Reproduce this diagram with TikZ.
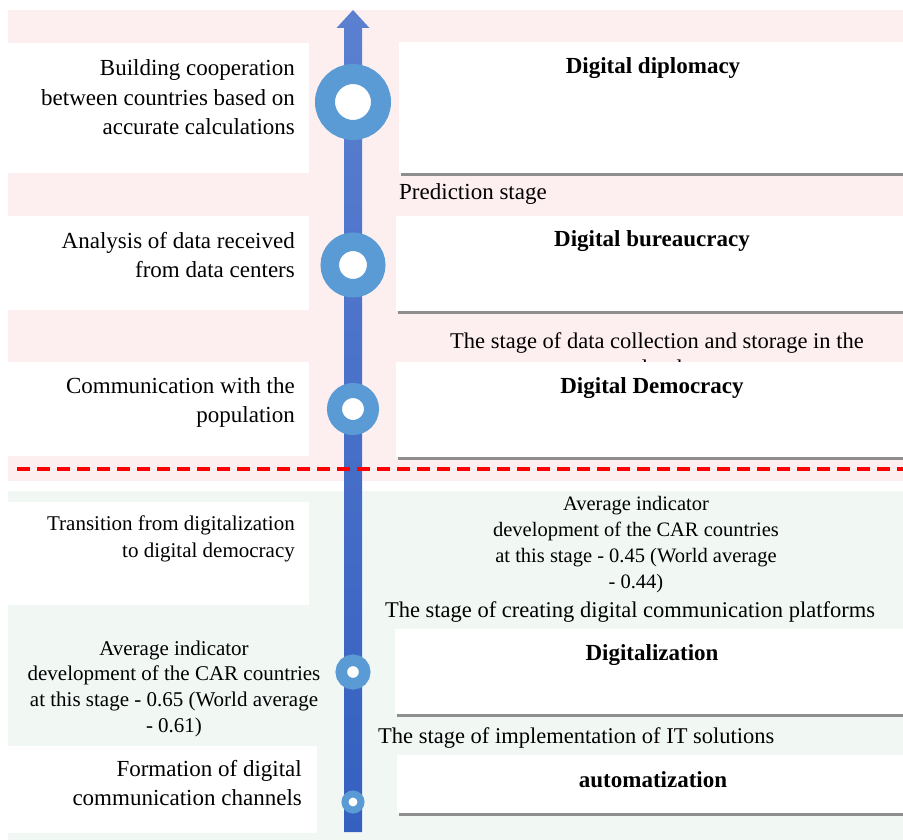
\documentclass[tikz,border=0pt]{standalone}
\usepackage{fontspec}
\setmainfont{Liberation Serif}
\usetikzlibrary{arrows.meta}
\definecolor{pinkbg}{HTML}{FDEFEF}
\definecolor{greenbg}{HTML}{F1F8F4}
\definecolor{ringblue}{HTML}{5B9BD5}
\definecolor{arrowtop}{HTML}{5B80D0}
\definecolor{arrowbot}{HTML}{3560C0}
\definecolor{rulegray}{HTML}{8E8E8E}
\definecolor{dashred}{HTML}{FF0000}
\newcommand\mylines[2]{\begin{tabular}[t]{@{}#1@{}}#2\end{tabular}}
\tikzset{
  whitebox/.style={fill=white},
  grayrule/.style={draw=rulegray, line width=3pt},
  lefttext/.style={anchor=base east, inner sep=0pt, font=\fontsize{23}{29.5}\selectfont},
  smalltext/.style={anchor=base, inner sep=0pt, font=\fontsize{20.5}{26}\selectfont},
  stagetext/.style={anchor=base west, inner sep=0pt, font=\fontsize{22.5}{27}\selectfont},
  titletext/.style={anchor=base, inner sep=0pt, font=\fontsize{23}{28}\selectfont\bfseries},
  ring/.style={circle, draw=ringblue, fill=white, inner sep=0pt, outer sep=0pt},
}
\begin{document}
\begin{tikzpicture}[x=1pt,y=-1pt]
\useasboundingbox (0,0) rectangle (903,840);
% backgrounds
\fill[pinkbg] (8,10) rectangle (903,481);
\fill[greenbg] (8,491) rectangle (903,840);
% stage text partly hidden by box below
\node[stagetext, anchor=base, align=center] (s2) at (657,348) {\mylines{c}{The stage of data collection and storage in the\\cloud}};
% white boxes
\fill[whitebox] (8,43) rectangle (309,173);
\fill[whitebox] (399,42) rectangle (903,173);
\fill[whitebox] (8,216) rectangle (309,310);
\fill[whitebox] (396,216) rectangle (903,311);
\fill[whitebox] (8,362) rectangle (309,456);
\fill[whitebox] (396,362) rectangle (903,457);
\fill[whitebox] (8,502) rectangle (309,605);
\fill[whitebox] (395,629) rectangle (903,714);
\fill[whitebox] (8,746) rectangle (317,833);
\fill[whitebox] (397,755) rectangle (903,813);
% gray rules
\draw[grayrule] (401,174.5) -- (903,174.5);
\draw[grayrule] (398,312.5) -- (903,312.5);
\draw[grayrule] (398,458.5) -- (903,458.5);
\draw[grayrule] (397,715.5) -- (903,715.5);
\draw[grayrule] (399,814.5) -- (903,814.5);
% left texts
\node[lefttext] (l1) at (295,76) {\mylines{r}{Building cooperation\\between countries based on\\accurate calculations}};
\node[lefttext] (l2) at (295,248) {\mylines{r}{Analysis of data received\\from data centers}};
\node[lefttext] (l3) at (295,393) {\mylines{r}{Communication with the\\population}};
\node[lefttext, font=\fontsize{21}{27}\selectfont] (l4) at (295,530) {\mylines{r}{Transition from digitalization\\to digital democracy}};
\node[smalltext, font=\fontsize{21}{25.7}\selectfont] (l5) at (174,655) {\mylines{c}{Average indicator\\development of the CAR countries\\at this stage - 0.65 (World average\\- 0.61)}};
\node[lefttext] (l6) at (302,776) {\mylines{r}{Formation of digital\\communication channels}};
% right titles
\node[titletext] (t1) at (653,74) {Digital diplomacy};
\node[titletext] (t2) at (652,247) {Digital bureaucracy};
\node[titletext] (t3) at (652,393) {Digital Democracy};
\node[titletext] (t4) at (652,660) {Digitalization};
\node[titletext] (t5) at (653,787) {automatization};
% stage labels
\node[stagetext, font=\fontsize{23}{27}\selectfont] (s1) at (399,200) {Prediction stage};
\node[smalltext] (g1) at (636,510) {\mylines{c}{Average indicator\\development of the CAR countries\\at this stage - 0.45 (World average\\- 0.44)}};
\node[stagetext, anchor=base] (s3) at (630,617) {The stage of creating digital communication platforms};
\node[stagetext] (s4) at (378,743) {The stage of implementation of IT solutions};
% timeline arrow
\coordinate (tip) at (353,10);
\coordinate (base) at (353,832);
\shade[top color=arrowtop, bottom color=arrowbot]
  (tip) -- (369.5,28) -- (362,28) -- (362,832) -- (344,832) -- (344,28) -- (336.5,28) -- cycle;
% rings
\node[ring, line width=20pt, minimum size=56pt] (r1) at (353,102) {};
\node[ring, line width=18.5pt, minimum size=46.5pt] (r2) at (353,265) {};
\node[ring, line width=15pt, minimum size=37pt] (r3) at (353,409) {};
\node[ring, line width=11.5pt, minimum size=23.5pt] (r4) at (353,672) {};
\node[ring, line width=7pt, minimum size=16pt] (r5) at (353,802) {};
% red dashed divider
\coordinate (dl) at (17,468.5);
\coordinate (dr) at (903,468.5);
\draw[dashred, line width=4pt, dash pattern=on 13pt off 7pt] (dl) -- (dr);
\end{tikzpicture}
\end{document}
